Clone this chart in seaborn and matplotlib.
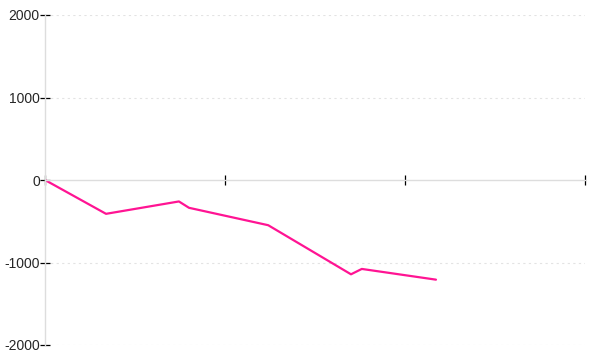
import matplotlib
matplotlib.use("Agg")
import matplotlib.pyplot as plt
import seaborn as sns
import pandas as pd

# Data
x_vals = [0.0, 0.339, 0.744, 0.80, 1.24, 1.70, 1.76, 2.172]
y_vals = [0, -410, -260, -337, -548, -1143, -1078, -1208]
y_ticks = [-2000, -1000, 0, 1000, 2000]
y_tick_labels = ["-2000", "-1000", "0", "1000", "2000"]
x_ticks = [0, 1, 2, 3]

sns.set_style("white")
plt.rcParams['font.family'] = ['Liberation Sans', 'DejaVu Sans']

df = pd.DataFrame({"x": x_vals, "y": y_vals})

fig = plt.figure(figsize=(6, 3.6), dpi=100)
ax = fig.add_axes([45/600, 15/360, 540/600, 330/360])

sns.lineplot(data=df, x="x", y="y", ax=ax, color="#ff1493", linewidth=1.6, sort=False)

ax.set_xlim(0, 3)
ax.set_ylim(-2000, 2000)
ax.set_xticks(x_ticks)
ax.set_xticklabels([])
ax.set_yticks(y_ticks)
ax.set_yticklabels(y_tick_labels, fontsize=8, color="#333333")
ax.set_xlabel("")
ax.set_ylabel("")

for v in [-2000, -1000, 1000, 2000]:
    ax.axhline(v, color="#e3e3e3", linewidth=0.8, linestyle=(0, (2, 3)), zorder=0)

ax.spines['top'].set_visible(False)
ax.spines['right'].set_visible(False)
ax.spines['left'].set_position(('data', 0))
ax.spines['bottom'].set_position(('data', 0))
ax.spines['left'].set_color("#dddddd")
ax.spines['bottom'].set_color("#dddddd")
ax.spines['left'].set_linewidth(1)
ax.spines['bottom'].set_linewidth(1)

ax.tick_params(axis='both', which='major', bottom=True, left=True,
               direction='inout', length=6.5, width=0.9, color="black", pad=0.5)
ax.tick_params(axis='x', labelbottom=False)

fig.savefig("out.png", dpi=100)
